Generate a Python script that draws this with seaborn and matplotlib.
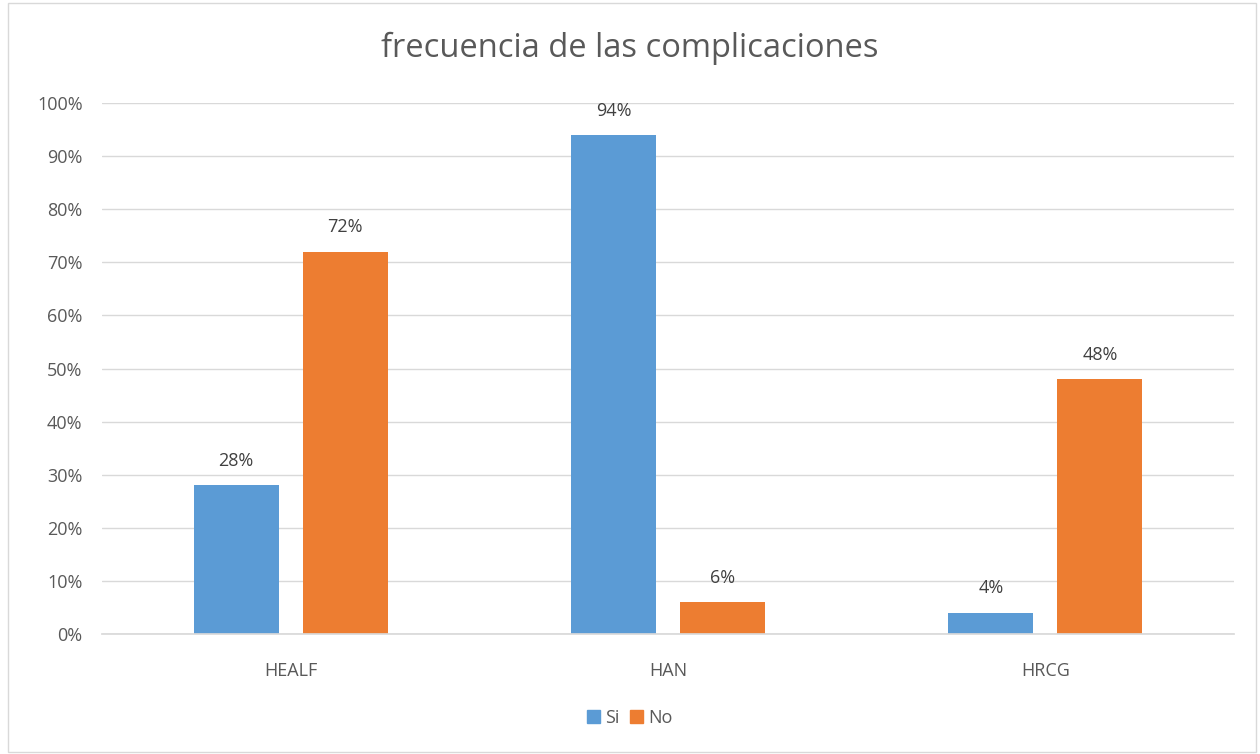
import matplotlib
matplotlib.use("Agg")
import matplotlib.pyplot as plt
import seaborn as sns
import pandas as pd
from matplotlib.patches import Rectangle

categories = ["HEALF", "HAN", "HRCG"]
si_values = [28, 94, 4]
no_values = [72, 6, 48]
series_names = ["Si", "No"]
y_ticks = [0, 10, 20, 30, 40, 50, 60, 70, 80, 90, 100]

df = pd.DataFrame({
    "cat": categories * 2,
    "serie": [series_names[0]] * 3 + [series_names[1]] * 3,
    "val": si_values + no_values,
})

sns.set_theme(style="white")
plt.rcParams['font.family'] = ['Open Sans', 'DejaVu Sans']
txt = "#595959"

fig = plt.figure(figsize=(12.6, 7.54), dpi=100)
ax = fig.add_axes([102/1260, 1-634/754, 1132/1260, 531/754])

sns.barplot(data=df, x="cat", y="val", hue="serie", palette=["#5B9BD5", "#ED7D31"],
            width=0.578, gap=0.222, ax=ax, legend=False, saturation=1, linewidth=0)

ax.set_ylim(0, 100)
ax.set_xlim(-0.5, 2.5)
ax.set_yticks(y_ticks)
ax.set_yticklabels([f"{t}%" for t in y_ticks], color=txt, fontsize=13)
ax.tick_params(axis="x", colors=txt, labelsize=13, length=0, pad=20)
ax.tick_params(axis="y", length=0, pad=14)
for lbl in ax.get_yticklabels():
    lbl.set_horizontalalignment("right")
ax.set_xlabel("")
ax.set_ylabel("")
ax.yaxis.grid(True, color="#D9D9D9", linewidth=1)
ax.set_axisbelow(True)
for s in ["top", "right", "left"]:
    ax.spines[s].set_visible(False)
ax.spines["bottom"].set_color("#D9D9D9")

for cont in ax.containers:
    ax.bar_label(cont, labels=[f"{v:.0f}%" for v in cont.datavalues], padding=11,
                 color="#404040", fontsize=13)

fig.text(0.5, 1-48/754, "frecuencia de las complicaciones", ha="center", va="center",
         fontsize=23.5, color=txt)

# legend
handles = [Rectangle((0, 0), 1, 1, color=c) for c in ["#5B9BD5", "#ED7D31"]]
fig.legend(handles, series_names, loc="center", bbox_to_anchor=(0.5, 1-718/754),
           ncol=2, frameon=False, fontsize=13, handlelength=0.7, handleheight=0.7,
           handletextpad=0.3, columnspacing=0.6, labelcolor=txt)

border = Rectangle((8/1260, 2/754), 1248/1260, 749/754, transform=fig.transFigure,
                   fill=False, edgecolor="#D9D9D9", linewidth=1)
fig.patches.append(border)

fig.savefig("out.png", dpi=100)
